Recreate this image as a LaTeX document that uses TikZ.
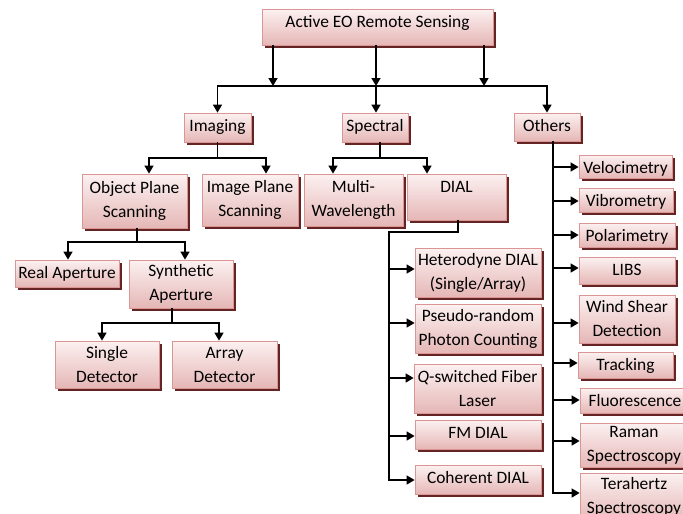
\documentclass[tikz,border=0pt]{standalone}
\usepackage{fontspec}
\setmainfont{Carlito}
\usetikzlibrary{arrows.meta,shadows}
\definecolor{pinkborder}{RGB}{217,150,148}
\definecolor{pinktop}{RGB}{252,241,241}
\definecolor{pinkbot}{RGB}{229,183,182}
\definecolor{shadowred}{RGB}{99,36,35}
\begin{document}
\begin{tikzpicture}[x=1pt,y=-1pt,
  bx/.style={draw=pinkborder, line width=0.8pt, top color=pinktop, bottom color=pinkbot,
    drop shadow={shadow xshift=3pt, shadow yshift=-3pt, fill=shadowred, opacity=1},
    inner sep=0pt, align=center, font=\fontsize{17.4}{24}\selectfont},
  toptext/.style={text height=18.5pt, text depth=#1},
  ln/.style={line width=1.6pt, black},
  arr/.style={ln, -{Triangle[width=9pt,length=8pt]}}]
\useasboundingbox (0,0) rectangle (683,514);
\clip (0,0) rectangle (683,514);
\fill[white] (0,0) rectangle (683,514);

% nodes
\node[bx,minimum width=231,minimum height=36,toptext=17.5pt] (top) at (377.5,27) {Active EO Remote Sensing};
\node[bx,minimum width=67,minimum height=29,toptext=10.5pt] (imaging) at (217.5,127.5) {Imaging};
\node[bx,minimum width=66,minimum height=29,toptext=10.5pt] (spectral) at (375,127.5) {Spectral};
\node[bx,minimum width=66,minimum height=28,toptext=9.5pt] (others) at (547,127) {Others};
\node[bx,minimum width=105,minimum height=54] (objplane) at (134.5,201) {Object Plane\\Scanning};
\node[bx,minimum width=96,minimum height=52] (imgplane) at (250,200) {Image Plane\\Scanning};
\node[bx,minimum width=99,minimum height=52] (multi) at (353.5,200) {Multi-\\Wavelength};
\node[bx,minimum width=99,minimum height=46,toptext=27.5pt] (dial) at (456.5,197) {DIAL};
\node[bx,minimum width=104,minimum height=27,toptext=8.5pt] (realap) at (67,273.5) {Real Aperture};
\node[bx,minimum width=104,minimum height=48] (synth) at (181,284) {Synthetic\\Aperture};
\node[bx,minimum width=104,minimum height=47] (single) at (107,364.5) {Single\\Detector};
\node[bx,minimum width=105,minimum height=47] (array) at (224.5,364.5) {Array\\Detector};
\node[bx,minimum width=126,minimum height=49] (het) at (478,272.5) {Heterodyne DIAL\\(Single/Array)};
\node[bx,minimum width=126,minimum height=49] (pseudo) at (478,328.5) {Pseudo-random\\Photon Counting};
\node[bx,minimum width=127,minimum height=49] (qsw) at (477.5,388.5) {\textit{Q}-switched Fiber\\Laser};
\node[bx,minimum width=126,minimum height=29,toptext=10.5pt] (fm) at (478,434.5) {FM DIAL};
\node[bx,minimum width=126,minimum height=29,toptext=10.5pt] (coh) at (478,479.5) {Coherent DIAL};
\node[bx,minimum width=93,minimum height=23,toptext=4.5pt] (velo) at (625.5,166.5) {Velocimetry};
\node[bx,minimum width=94,minimum height=24,toptext=5.5pt] (vibro) at (626,200) {Vibrometry};
\node[bx,minimum width=96,minimum height=24,toptext=5.5pt] (polar) at (627,235) {Polarimetry};
\node[bx,minimum width=96,minimum height=27,toptext=8.5pt] (libs) at (627,270.5) {LIBS};
\node[bx,minimum width=96,minimum height=48] (wind) at (627,319) {Wind Shear\\Detection};
\node[bx,minimum width=95,minimum height=26,toptext=7.5pt] (track) at (625.5,365) {Tracking};
\node[bx,minimum width=110,minimum height=25,toptext=6.5pt] (fluor) at (635,400.5) {Fluorescence};
\node[bx,minimum width=108,minimum height=44] (raman) at (634,445) {Raman\\Spectroscopy};
\node[bx,minimum width=108,minimum height=48] (tera) at (634,497) {Terahertz\\Spectroscopy};

% top level bus
\coordinate (t1) at (273,86);
\coordinate (bM) at (376,86);
\coordinate (t3) at (484,86);
\draw[arr] (top.south -| t1) -- (t1);
\draw[arr] (top.south -| bM) -- (bM);
\draw[arr] (top.south -| t3) -- (t3);
\draw[arr] (bM) -| (imaging.north);
\draw[arr] (bM) -| (others.north);
\draw[arr] (bM) -- (spectral.north -| bM);

% imaging
\coordinate (i1) at (149,158);
\coordinate (i2) at (266,158);
\draw[arr] (imaging.south) |- (i1) -- (i1 |- objplane.north);
\draw[arr] (imaging.south) |- (i2) -- (i2 |- imgplane.north);

% spectral
\coordinate (s0) at (380,158);
\coordinate (s1) at (333,158);
\coordinate (s2) at (427,158);
\draw[arr] (spectral.south -| s0) -- (s0) -- (s1) -- (s1 |- multi.north);
\draw[arr] (s0) -- (s2) -- (s2 |- dial.north);

% object plane
\coordinate (p0) at (137,242);
\coordinate (p1) at (68,242);
\coordinate (p2) at (185,242);
\draw[arr] (objplane.south -| p0) -- (p0) -- (p1) -- (p1 |- realap.north);
\draw[arr] (p0) -- (p2) -- (p2 |- synth.north);

% synthetic aperture
\coordinate (q0) at (172,323);
\coordinate (q1) at (102,323);
\coordinate (q2) at (219,323);
\draw[arr] (synth.south -| q0) -- (q0) -- (q1) -- (q1 |- single.north);
\draw[arr] (q0) -- (q2) -- (q2 |- array.north);

% DIAL
\coordinate (d0) at (458,232);
\coordinate (d1) at (389,232);
\coordinate (dh) at (389,269);
\coordinate (dp) at (389,323);
\coordinate (dq) at (389,378);
\coordinate (df) at (389,436);
\coordinate (dc) at (389,480);
\draw[arr] (dial.south -| d0) -- (d0) -- (d1) -- (dc) -- (dc -| coh.west);
\draw[arr] (dh) -- (dh -| het.west);
\draw[arr] (dp) -- (dp -| pseudo.west);
\draw[arr] (dq) -- (dq -| qsw.west);
\draw[arr] (df) -- (df -| fm.west);

% others
\coordinate (o0) at (553,141);
\coordinate (o1) at (553,167);
\coordinate (o2) at (553,201);
\coordinate (o3) at (553,235);
\coordinate (o4) at (553,268);
\coordinate (o5) at (553,323);
\coordinate (o6) at (553,363);
\coordinate (o7) at (553,400);
\coordinate (o8) at (553,441);
\coordinate (o9) at (553,493);
\draw[arr] (others.south -| o0) -- (o9) -- (o9 -| tera.west);
\draw[arr] (o1) -- (o1 -| velo.west);
\draw[arr] (o2) -- (o2 -| vibro.west);
\draw[arr] (o3) -- (o3 -| polar.west);
\draw[arr] (o4) -- (o4 -| libs.west);
\draw[arr] (o5) -- (o5 -| wind.west);
\draw[arr] (o6) -- (o6 -| track.west);
\draw[arr] (o7) -- (o7 -| fluor.west);
\draw[arr] (o8) -- (o8 -| raman.west);
\end{tikzpicture}
\end{document}
